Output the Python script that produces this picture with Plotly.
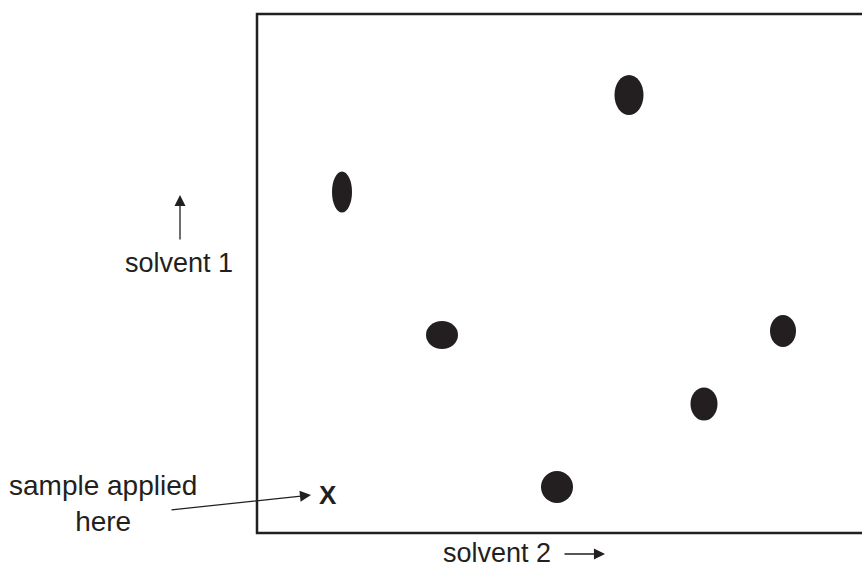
import plotly.graph_objects as go

# spot positions on the plate (page pixels, y measured downward) and sizes
spot_x = [629, 342, 442, 783, 704, 557]
spot_y = [95, 192, 335, 331, 404, 487]
spot_w = [29, 20, 32, 26, 27, 32]
spot_h = [40, 41, 28, 32, 33, 32]

# plate outline: left, top, bottom (right edge runs off the page)
plate_left = 257
plate_top = 14
plate_bottom = 533
plate_right = 900

# labels
label_solvent1 = "solvent 1"
label_solvent2 = "solvent 2"
label_sample = "sample applied<br>here"
label_origin = "X"

ink = "#231f20"
font_name = "Liberation Sans, Arial, sans-serif"

fig = go.Figure()

# invisible trace so the axes exist
fig.add_trace(go.Scatter(x=[0, 862], y=[0, 567], mode="markers",
                         marker=dict(opacity=0), hoverinfo="skip", showlegend=False))

# plate
fig.add_shape(type="rect", xref="x", yref="y",
              x0=plate_left, x1=plate_right, y0=plate_top, y1=plate_bottom,
              line=dict(color=ink, width=2.5), fillcolor="rgba(0,0,0,0)")

# spots
for x, y, w, h in zip(spot_x, spot_y, spot_w, spot_h):
    fig.add_shape(type="circle", xref="x", yref="y",
                  x0=x - w / 2, x1=x + w / 2, y0=y - h / 2, y1=y + h / 2,
                  line=dict(width=0), fillcolor=ink)

# origin mark
fig.add_annotation(x=328, y=495, text="<b>" + label_origin + "</b>", showarrow=False,
                   font=dict(family=font_name, size=26, color=ink))

arrow_style = dict(xref="x", yref="y", axref="x", ayref="y", text="",
                   showarrow=True, arrowhead=2, arrowsize=1.7,
                   arrowwidth=1.3, arrowcolor=ink)

# sample arrow
fig.add_annotation(x=311, y=495, ax=170, ay=510, **arrow_style)
fig.add_annotation(x=103, y=503, text=label_sample, showarrow=False, align="center",
                   font=dict(family=font_name, size=28, color=ink))

# solvent 1
fig.add_annotation(x=180, y=195, ax=180, ay=241, **arrow_style)
fig.add_annotation(x=179, y=263, text=label_solvent1, showarrow=False,
                   font=dict(family=font_name, size=27, color=ink))

# solvent 2
fig.add_annotation(x=605, y=554, ax=563, ay=554, **arrow_style)
fig.add_annotation(x=497, y=553, text=label_solvent2, showarrow=False,
                   font=dict(family=font_name, size=27, color=ink))

fig.update_layout(
    width=862, height=567,
    margin=dict(l=0, r=0, t=0, b=0),
    paper_bgcolor="white", plot_bgcolor="white",
    xaxis=dict(range=[0, 862], visible=False, fixedrange=True),
    yaxis=dict(range=[567, 0], visible=False, fixedrange=True),
    showlegend=False,
)

fig.write_html("out.html", config={"displayModeBar": False},
               post_script="document.body.style.margin='0';")
